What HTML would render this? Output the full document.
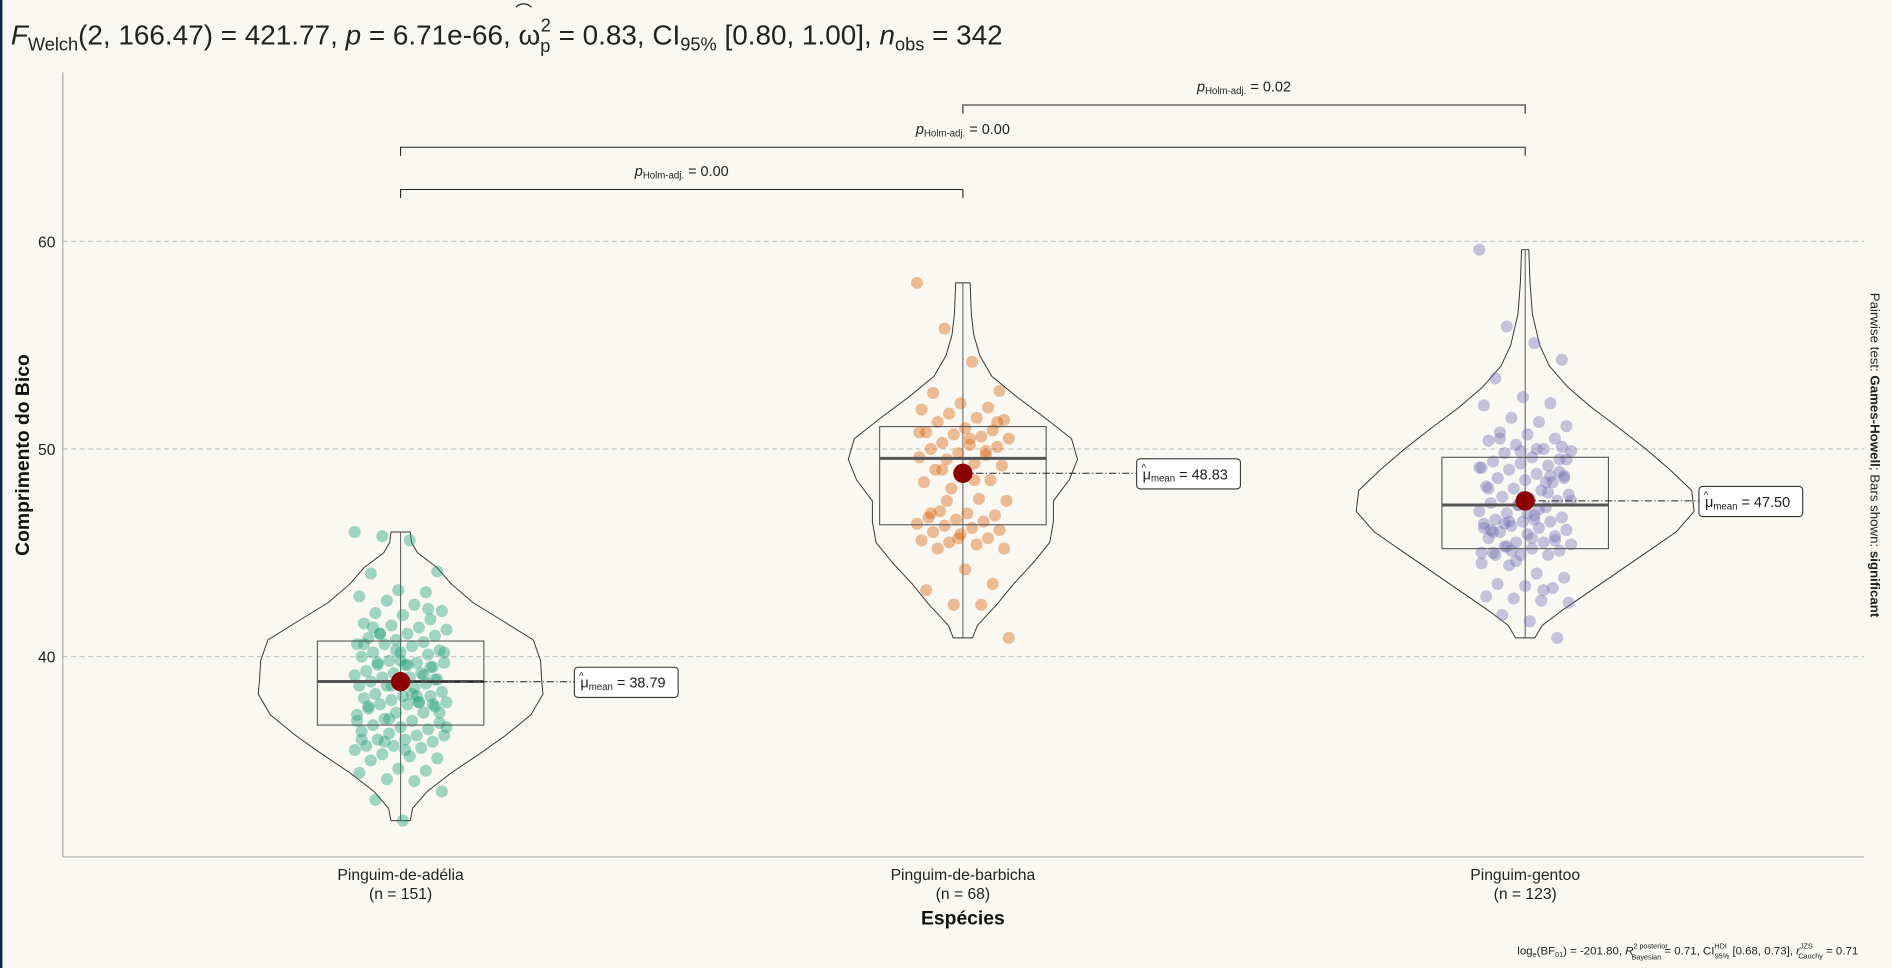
<!DOCTYPE html>
<html><head><meta charset="utf-8"><style>
html,body{margin:0;padding:0;background:#f9f8f3;}
svg{display:block;font-family:"Liberation Sans",sans-serif;}
</style></head><body>
<svg id="chart" width="1892" height="968" viewBox="0 0 1568 802" preserveAspectRatio="none" xmlns="http://www.w3.org/2000/svg">
<rect x="0" y="0" width="1568" height="802" fill="#f9f8f3"/>
<rect x="0" y="0" width="2" height="802" fill="#0d2a55"/>
<text x="9" y="37" font-size="23" fill="#222" textLength="822" lengthAdjust="spacingAndGlyphs"><tspan font-style="italic">F</tspan><tspan font-size="15" dy="5">Welch</tspan><tspan dy="-5">(2, 166.47) = 421.77, </tspan><tspan font-style="italic">p</tspan><tspan> = 6.71e-66, ω</tspan><tspan font-size="15" dy="6">p</tspan><tspan font-size="15" dx="-8" dy="-17">2</tspan><tspan dy="11"> = 0.83, CI</tspan><tspan font-size="15" dy="5">95%</tspan><tspan dy="-5"> [0.80, 1.00], </tspan><tspan font-style="italic">n</tspan><tspan font-size="15" dy="5">obs</tspan><tspan dy="-5"> = 342</tspan></text>
<text x="427" y="15" font-size="14" fill="#222">⌒</text>
<g id="grid"></g>
<line x1="52" y1="60" x2="52" y2="710" stroke="#aaa" stroke-width="1"/>
<line x1="52" y1="710" x2="1545" y2="710" stroke="#aaa" stroke-width="1"/>
<g id="plot"></g>
<text transform="translate(24,377) rotate(-90)" text-anchor="middle" font-size="16" font-weight="bold" fill="#111">Comprimento do Bico</text>
<text x="798" y="766" text-anchor="middle" font-size="16" font-weight="bold" fill="#111">Espécies</text>
<text transform="translate(1550,377) rotate(90)" text-anchor="middle" font-size="11" fill="#222">Pairwise test: <tspan font-weight="bold">Games-Howell</tspan>; Bars shown: <tspan font-weight="bold">significant</tspan></text>
<text x="1540" y="791" text-anchor="end" font-size="9.5" fill="#222">log<tspan font-size="6" dy="2">e</tspan><tspan dy="-2">(BF</tspan><tspan font-size="6" dy="2">01</tspan><tspan dy="-2">) = -201.80, </tspan><tspan font-style="italic">R</tspan><tspan font-size="6" dy="-5">2 posterior</tspan><tspan font-size="6" dx="-30" dy="9">Bayesian</tspan><tspan dy="-4"> = 0.71, CI</tspan><tspan font-size="6" dy="-5">HDI</tspan><tspan font-size="6" dx="-10" dy="8">95%</tspan><tspan dy="-3"> [0.68, 0.73], </tspan><tspan font-style="italic">r</tspan><tspan font-size="6" dy="-5">JZS</tspan><tspan font-size="6" dx="-12" dy="8">Cauchy</tspan><tspan dy="-3"> = 0.71</tspan></text>
<script>
const categories = ["Pinguim-de-adélia","Pinguim-de-barbicha","Pinguim-gentoo"];
const counts = [151,68,123];
const means = [38.79,48.83,47.50];
const medians = [38.8,49.55,47.3];
const q1s = [36.7,46.35,45.2];
const q3s = [40.75,51.08,49.6];
const mins = [32.1,40.9,40.9];
const maxs = [46.0,58.0,59.6];
const yTicks = [40,50,60];
const colors = ["#1b9e77","#d95f02","#7570b3"];
const densAdelie = [[32.1,8],[32.7,10],[33.5,22],[34.4,42],[35.3,65],[36.2,87],[37.2,108],[38.2,118],[38.8,117],[39.8,116],[40.8,110],[41.6,88],[42.6,60],[43.5,42],[44.3,30],[45.0,14],[45.5,9],[46.0,8]];
const densChin = [[40.9,8],[41.5,12],[42.5,28],[43.5,42],[44.5,58],[45.5,72],[46.5,75],[47.5,75],[48.5,88],[49.5,95],[50.5,90],[51.5,68],[52.5,45],[53.5,24],[54.5,14],[55.5,9],[56.5,7],[58.0,6]];
const densGentoo = [[40.9,8],[41.5,14],[42.2,30],[43,50],[44,75],[45,100],[46,125],[47,140],[48,138],[49,120],[50,100],[51,78],[52,55],[53,35],[54,20],[55,12],[56.5,6],[58,4],[59.6,3]];
const densities = [densAdelie,densChin,densGentoo];
const ptsAdelie = [46.0,45.8,45.6,44.1,44.0,43.2,43.1,42.9,42.7,42.5,42.2,42.1,42.0,41.8,41.6,41.5,41.4,41.3,41.1,41.1,41.0,40.9,40.8,40.7,40.6,40.6,40.5,40.3,40.2,40.2,40.1,40.0,39.8,39.7,39.7,39.6,39.6,39.5,39.3,39.2,39.2,39.1,39.0,39.0,38.9,38.8,38.8,38.7,38.6,38.6,38.5,38.3,38.2,38.1,38.1,38.0,37.9,37.8,37.8,37.7,37.7,37.6,37.5,37.3,37.3,37.2,37.0,36.9,36.8,36.7,36.6,36.5,36.4,36.3,36.2,36.2,36.0,36.0,35.9,35.7,35.7,35.6,35.5,35.3,35.2,35.1,35.0,34.6,34.5,34.4,34.1,34.0,33.5,33.1,32.1,39.5,40.6,38.6,37.8,36.6,41.1,39.6,38.9,37.6,40.3,39.1,36.9,35.9,38.2,37.3,41.4,39.8,42.3,36.0,37.0,38.1,40.2,39.7,35.5,37.7];
const ptsChin = [58.0,55.8,54.2,52.8,52.7,52.2,52.0,51.9,51.7,51.5,51.4,51.3,51.0,50.9,50.8,50.7,50.6,50.5,50.3,50.2,50.1,50.0,49.8,49.7,49.6,49.5,49.3,49.2,49.0,48.8,48.5,48.4,48.1,47.6,47.5,47.0,46.9,46.8,46.7,46.6,46.5,46.4,46.3,46.2,46.1,46.0,45.9,45.7,45.6,45.5,45.4,45.2,45.2,44.2,43.5,43.2,42.5,42.5,40.9,49.0,50.5,51.3,46.9,45.7,49.9,50.8,47.5,48.5];
const ptsGentoo = [59.6,55.9,55.1,54.3,53.4,52.5,52.2,52.1,51.5,51.3,51.1,50.8,50.7,50.5,50.4,50.2,50.0,49.9,49.8,49.6,49.5,49.4,49.3,49.2,49.1,49.0,48.8,48.7,48.6,48.5,48.4,48.2,48.1,48.0,47.8,47.7,47.6,47.5,47.4,47.3,47.2,47.0,46.9,46.8,46.7,46.6,46.5,46.5,46.4,46.3,46.2,46.1,46.0,45.9,45.8,45.7,45.5,45.5,45.4,45.3,45.2,45.1,45.0,44.9,44.9,44.5,44.4,44.0,43.8,43.5,43.4,43.3,42.9,42.8,42.7,42.6,42.0,41.7,40.9,46.1,47.3,48.4,49.1,45.3,46.6,50.1,44.9,47.7,48.7,46.2,45.1,47.1,49.5,50.5,46.9,45.6,48.1,44.6,43.2,47.5,46.4,45.7,48.9,46.0,49.9,47.9,45.0,46.5,50.0,48.6];
const points = [ptsAdelie,ptsChin,ptsGentoo];
const pairLabels = ["0.00","0.00","0.02"];
const pairs = [[0,1],[0,2],[1,2]];

const NS = "http://www.w3.org/2000/svg";
function yScale(v){ return 544 - (v-40)*17.2; }
function xScale(i){ return 332 + i*466; }
function mk(parent, tag, attrs){ const e=document.createElementNS(NS,tag); for(const k in attrs) e.setAttribute(k,attrs[k]); parent.appendChild(e); return e; }
function ts(parent, txt, attrs){ const t=mk(parent,'tspan',attrs||{}); t.textContent=txt; return t; }
const grid=document.getElementById('grid'), plot=document.getElementById('plot');

yTicks.forEach(t=>{
  const l=mk(grid,'line',{x1:52,x2:1545,y1:yScale(t),y2:yScale(t),stroke:'#c8c8c8','stroke-dasharray':'4,3'});
  
  
  const tx=mk(grid,'text',{x:46,y:yScale(t)+5,'text-anchor':'end','font-size':13,fill:'#222'});
  tx.textContent=t;
  
  
});

categories.forEach((c,i)=>{
  const cx=xScale(i);
  const d=densities[i];
  let p='M'+cx+','+yScale(d[0][0]);
  d.forEach(q=>{p+=' L'+(cx+q[1])+','+yScale(q[0]);});
  for(let k=d.length-1;k>=0;k--) p+=' L'+(cx-d[k][1])+','+yScale(d[k][0]);
  p+=' Z';
  const v=mk(plot,'path',{d:p,fill:'none',stroke:'#333','stroke-width':0.8,'stroke-linejoin':'round'});
  
  
  const w=mk(plot,'line',{x1:cx,x2:cx,y1:yScale(mins[i]),y2:yScale(maxs[i]),stroke:'#555','stroke-width':0.8});
  
  
  const g=mk(plot,'g',{});
  
  
  points[i].forEach((val,j)=>{
    const jit=(((j*53)%41)-20)/20*38;
    const dot=mk(g,'circle',{cx:cx+jit,cy:yScale(val),r:5,fill:colors[i],'fill-opacity':0.4});
    
    
  });
  const b=mk(plot,'rect',{x:cx-69,y:yScale(q3s[i]),width:138,height:yScale(q1s[i])-yScale(q3s[i]),fill:'none',stroke:'#555','stroke-width':0.9});
  
  
  const m=mk(plot,'line',{x1:cx-69,x2:cx+69,y1:yScale(medians[i]),y2:yScale(medians[i]),stroke:'#555','stroke-width':2.5});
  
  
  const my=yScale(means[i]);
  const lx=cx+144;
  const dl=mk(plot,'line',{x1:cx,x2:lx,y1:my,y2:my,stroke:'#222','stroke-width':0.8,'stroke-dasharray':'6,2,1,2'});
  
  
  const md=mk(plot,'circle',{cx:cx,cy:my,r:8,fill:'#8b0000'});
  
  
  const lb=mk(plot,'rect',{x:lx,y:my-12,width:86,height:25,rx:3,fill:'#fff',stroke:'#333','stroke-width':0.9});
  
  
  const lt=mk(plot,'text',{x:lx+5,y:my+5,'font-size':12,fill:'#222'});
  ts(lt,'μ');
  ts(lt,'mean',{'font-size':8,dy:2});
  ts(lt,' = '+means[i].toFixed(2),{dy:-2});
  
  
  const hat=mk(plot,'text',{x:lx+4,y:my-2,'font-size':8,fill:'#222'});
  hat.textContent='^';
  
  
  const xl=mk(plot,'text',{x:cx,y:729,'text-anchor':'middle','font-size':13,fill:'#222'});
  xl.textContent=c;
  
  
  const xn=mk(plot,'text',{x:cx,y:745,'text-anchor':'middle','font-size':13,fill:'#222'});
  xn.textContent='(n = '+counts[i]+')';
  
  
});

const barY=[157,122,87];
pairs.forEach((pr,k)=>{
  const x1=xScale(pr[0]), x2=xScale(pr[1]), y=barY[k];
  const br=mk(plot,'path',{d:`M${x1},${y+7} L${x1},${y} L${x2},${y} L${x2},${y+7}`,fill:'none',stroke:'#222','stroke-width':0.9});
  
  
  const t=mk(plot,'text',{x:(x1+x2)/2,y:y-11,'text-anchor':'middle','font-size':12,fill:'#222'});
  ts(t,'p',{'font-style':'italic'});
  ts(t,'Holm-adj.',{'font-size':8,dy:2});
  ts(t,' = '+pairLabels[k],{dy:-2});
  
  
});
</script>
</svg>
</body></html>
